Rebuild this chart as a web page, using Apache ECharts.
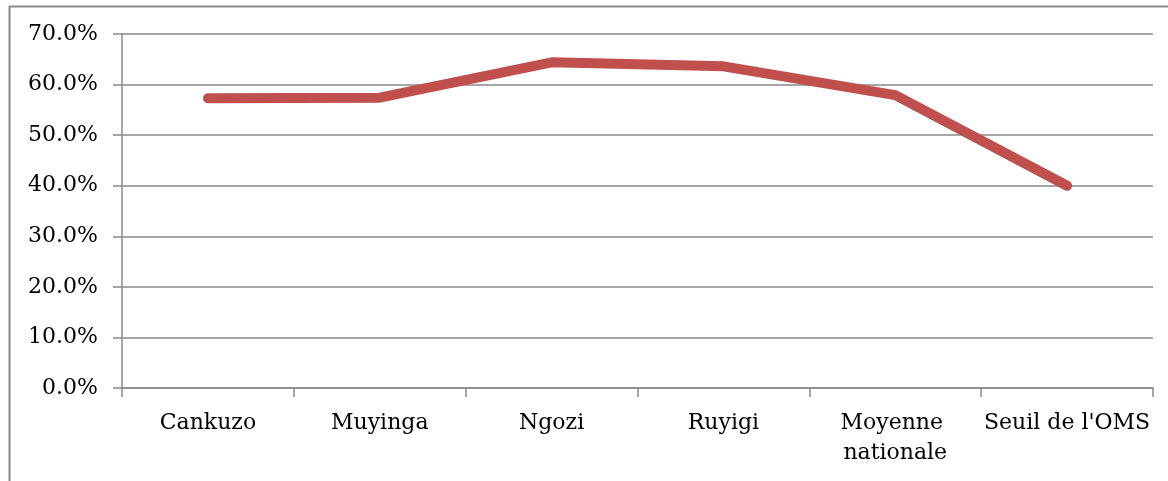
<!DOCTYPE html>
<html><head><meta charset="utf-8">
<script src="https://cdn.jsdelivr.net/npm/echarts@6/dist/echarts.min.js"></script>
<style>html,body{margin:0;padding:0;background:#fff}#c{width:1168px;height:481px}</style>
</head><body><div id="c"></div>
<script>
const categories = ["Cankuzo", "Muyinga", "Ngozi", "Ruyigi", "Moyenne nationale", "Seuil de l'OMS"];
const values = [57.3, 57.4, 64.4, 63.6, 57.9, 40.0];
const yTicks = { min: 0, max: 70, interval: 10 };

const chart = echarts.init(document.getElementById('c'), null, { renderer: 'canvas' });
const font = 'DejaVu Serif';
chart.setOption({
  animation: false,
  backgroundColor: '#fff',
  graphic: [{
    type: 'rect', left: 7, top: 4, silent: true,
    shape: { width: 1200, height: 520 },
    style: { fill: 'none', stroke: '#898989', lineWidth: 2 }
  }],
  grid: { left: 122, right: 15, top: 34, bottom: 93, containLabel: false },
  xAxis: {
    type: 'category', data: categories, boundaryGap: true,
    axisLine: { lineStyle: { color: '#898989', width: 1.5 } },
    axisTick: { show: true, length: 9, alignWithLabel: false, lineStyle: { color: '#898989', width: 1.5 } },
    axisLabel: { interval: 0, color: '#000', fontFamily: font, fontSize: 22, lineHeight: 30,
      margin: 20, width: 168, overflow: 'break' }
  },
  yAxis: {
    type: 'value', min: yTicks.min, max: yTicks.max, interval: yTicks.interval,
    axisLine: { show: true, lineStyle: { color: '#898989', width: 1.5 } },
    axisTick: { show: true, length: 9, lineStyle: { color: '#898989', width: 1.5 } },
    splitLine: { show: true, lineStyle: { color: '#898989', width: 1.5 } },
    axisLabel: { color: '#000', fontFamily: font, fontSize: 22, margin: 24,
      formatter: v => v.toFixed(1) + '%' }
  },
  series: [{
    type: 'line', data: values, showSymbol: false, symbol: 'none',
    lineStyle: { color: '#C0504D', width: 10, cap: 'round', join: 'round' },
    itemStyle: { color: '#C0504D' }
  }]
});
</script></body></html>
